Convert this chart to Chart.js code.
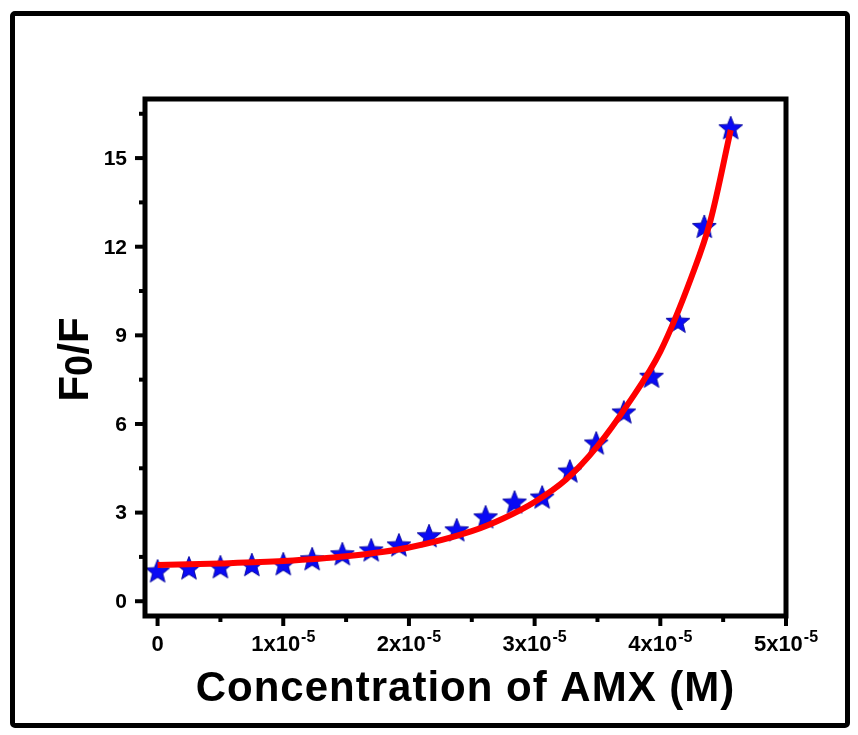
<!DOCTYPE html>
<html>
<head>
<meta charset="utf-8">
<script src="https://cdn.jsdelivr.net/npm/chart.js@4.4.1/dist/chart.umd.min.js"></script>
<style>
  html,body{margin:0;padding:0;background:#fff;}
  #wrap{position:relative;width:858px;height:735px;}
  #frame{position:absolute;left:10px;top:11px;width:840px;height:717px;box-sizing:border-box;border:5px solid #000;border-radius:5px;}
  #c{position:absolute;left:0;top:0;}
</style>
</head>
<body>
<div id="wrap"><div id="frame"></div><canvas id="c" width="858" height="735"></canvas></div>
<script>
// ====== DATA ======
const concX = [0, 2.5e-6, 5.0e-6, 7.5e-6, 1.0e-5, 1.23e-5, 1.47e-5, 1.70e-5, 1.92e-5, 2.16e-5, 2.38e-5, 2.61e-5, 2.84e-5, 3.06e-5, 3.28e-5, 3.49e-5, 3.71e-5, 3.93e-5, 4.14e-5, 4.35e-5, 4.56e-5];
const f0f   = [1.01, 1.11, 1.15, 1.22, 1.25, 1.42, 1.59, 1.72, 1.89, 2.20, 2.40, 2.84, 3.34, 3.51, 4.39, 5.34, 6.39, 7.60, 9.46, 12.67, 16.01];
// fitted curve (red)
const fitX  = [0, 0.5e-5, 1e-5, 1.5e-5, 2e-5, 2.5e-5, 2.75e-5, 3e-5, 3.25e-5, 3.5e-5, 3.75e-5, 4e-5, 4.25e-5, 4.4e-5, 4.56e-5];
const fitY  = [1.23, 1.28, 1.36, 1.52, 1.82, 2.37, 2.80, 3.36, 4.12, 5.25, 6.72, 8.45, 11.0, 12.9, 15.95];
// axes
const xMajor = [0, 1e-5, 2e-5, 3e-5, 4e-5, 5e-5];
const xMinor = [0.5e-5, 1.5e-5, 2.5e-5, 3.5e-5, 4.5e-5];
const xLabels = [['0',''], ['1x10','-5'], ['2x10','-5'], ['3x10','-5'], ['4x10','-5'], ['5x10','-5']];
const yMajor = [0, 3, 6, 9, 12, 15];
const yMinor = [1.5, 4.5, 7.5, 10.5, 13.5, 16.5];
const yLabels = ['0', '3', '6', '9', '12', '15'];
const xTitle = 'Concentration of AMX (M)';
const yTitle = ['F', '0', '/F'];

const FONT = '"Liberation Sans", Arial, sans-serif';

// ====== STAR MARKER ======
function makeStar(){
  const s = document.createElement('canvas'); s.width = 28; s.height = 28;
  const g = s.getContext('2d'); const R = 12.5, r = 5.4, cx = 14, cy = 14.5;
  g.beginPath();
  for(let i=0;i<10;i++){ const a = -Math.PI/2 + i*Math.PI/5; const rr = i%2 ? r : R; g.lineTo(cx+rr*Math.cos(a), cy+rr*Math.sin(a)); }
  g.closePath(); g.fillStyle = '#0a0af5'; g.fill(); g.lineWidth = 0.9; g.strokeStyle = '#00009a'; g.stroke();
  return s;
}

// ====== AXES / FRAME PLUGIN ======
const axesPlugin = {
  id: 'axesPlugin',
  afterDraw(chart){
    const {ctx, chartArea:a, scales:{x, y}} = chart;
    ctx.save();
    ctx.strokeStyle = '#000'; ctx.lineWidth = 5; ctx.lineJoin = 'miter';
    ctx.strokeRect(a.left, a.top, a.right - a.left, a.bottom - a.top);
    ctx.lineWidth = 4; ctx.lineCap = 'butt';
    const tick = (x1,y1,x2,y2)=>{ ctx.beginPath(); ctx.moveTo(x1,y1); ctx.lineTo(x2,y2); ctx.stroke(); };
    xMajor.forEach(v=>{ const px = x.getPixelForValue(v); tick(px, a.bottom, px, a.bottom+10); });
    xMinor.forEach(v=>{ const px = x.getPixelForValue(v); tick(px, a.bottom, px, a.bottom+6); });
    yMajor.forEach(v=>{ const py = y.getPixelForValue(v); tick(a.left, py, a.left-10, py); });
    yMinor.forEach(v=>{ const py = y.getPixelForValue(v); tick(a.left, py, a.left-6, py); });

    // tick labels
    ctx.fillStyle = '#000';
    ctx.font = `bold 21px ${FONT}`; ctx.textAlign = 'right'; ctx.textBaseline = 'middle';
    yMajor.forEach((v,i)=> ctx.fillText(yLabels[i], a.left-18, y.getPixelForValue(v)+1));
    ctx.textBaseline = 'alphabetic'; ctx.textAlign = 'left';
    xMajor.forEach((v,i)=>{
      const [base, sup] = xLabels[i];
      ctx.font = `bold 22px ${FONT}`; const wb = ctx.measureText(base).width;
      ctx.font = `bold 16px ${FONT}`; const ws = sup ? ctx.measureText(sup).width + 1 : 0;
      const x0 = x.getPixelForValue(v) - (wb + ws)/2;
      ctx.font = `bold 22px ${FONT}`; ctx.fillText(base, x0, 651);
      if(sup){ ctx.font = `bold 16px ${FONT}`; ctx.fillText(sup, x0 + wb + 1, 642); }
    });

    // x title
    ctx.font = `bold 42px ${FONT}`; ctx.textAlign = 'center';
    ctx.letterSpacing = '1px';
    ctx.fillText(xTitle, (a.left + a.right)/2, 701);
    ctx.letterSpacing = '0px';

    // y title with lowered 0
    ctx.translate(88, (a.top + a.bottom)/2 + 2); ctx.rotate(-Math.PI/2);
    ctx.textAlign = 'left';
    const fBig = `bold 42px ${FONT}`, fSub = `bold 38px ${FONT}`;
    ctx.font = fBig; const w1 = ctx.measureText(yTitle[0]).width, w3 = ctx.measureText(yTitle[2]).width;
    ctx.font = fSub; const w2 = ctx.measureText(yTitle[1]).width;
    let cx = -(w1 + w2 + w3)/2;
    ctx.font = fBig; ctx.fillText(yTitle[0], cx, 0); cx += w1;
    ctx.font = fSub; ctx.fillText(yTitle[1], cx, 4); cx += w2;
    ctx.font = fBig; ctx.fillText(yTitle[2], cx, 0);
    ctx.restore();
  }
};

// ====== CHART ======
const starImg = makeStar();
new Chart(document.getElementById('c'), {
  type: 'scatter',
  data: {
    datasets: [
      { label: 'fit', data: fitX.map((v,i)=>({x:v, y:fitY[i]})), showLine: true, borderColor: '#ff0000', borderWidth: 6,
        pointRadius: 0, cubicInterpolationMode: 'monotone', fill: false },
      { label: 'F0/F', data: concX.map((v,i)=>({x:v, y:f0f[i]})), showLine: false, pointStyle: starImg, pointRadius: 12 }
    ]
  },
  plugins: [axesPlugin],
  options: {
    responsive: false, animation: false, events: [],
    layout: { padding: { left: 145, right: 72, top: 99, bottom: 119 } },
    plugins: { legend: { display: false }, tooltip: { enabled: false } },
    scales: {
      x: { type: 'linear', min: -1e-6, max: 5e-5, display: false },
      y: { type: 'linear', min: -0.5, max: 17, display: false }
    }
  }
});
</script>
</body>
</html>
